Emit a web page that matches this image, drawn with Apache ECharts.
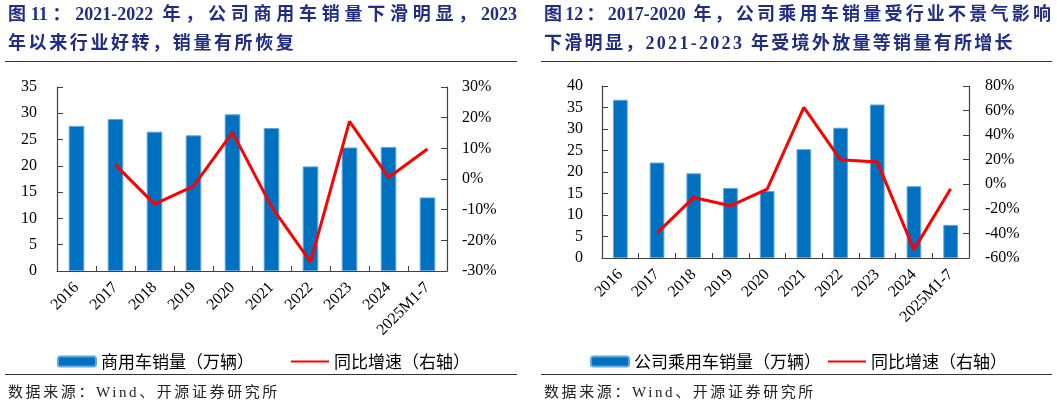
<!DOCTYPE html>
<html>
<head>
<meta charset="utf-8">
<script src="https://cdn.jsdelivr.net/npm/echarts@6/dist/echarts.min.js"></script>
<style>
    body { margin: 0; background: #fff; }
    #page { position: relative; width: 1057px; height: 405px; overflow: hidden; }
    #chart { position: absolute; left: 0; top: 0; width: 1057px; height: 405px; }
    .title {
        position: absolute; color: #1F2D84; font-weight: bold; font-size: 18px;
        font-family: "Liberation Serif", "Noto Sans CJK SC", serif;
        line-height: 22px; white-space: nowrap;
    }
    .justify { text-align: justify; text-align-last: justify; white-space: normal; }
    .rule { position: absolute; height: 0; border-top: 1.5px solid #333; }
    .source {
        position: absolute; color: #222; font-size: 15px; letter-spacing: 2.6px;
        font-family: "Liberation Serif", "Noto Sans CJK SC", serif;
        line-height: 20px; white-space: nowrap;
    }
</style>
</head>
<body>
<div id="page">
    <div id="chart"></div>

    <div class="title justify" style="left:8px;top:3px;width:509px;">图11：2021-2022 年，公司商用车销量下滑明显，2023</div>
    <div class="title" style="left:8px;top:32px;letter-spacing:2.6px;">年以来行业好转，销量有所恢复</div>
    <div class="rule" style="left:5px;top:61px;width:512px;"></div>

    <div class="title justify" style="left:544px;top:3px;width:507px;">图12：2017-2020 年，公司乘用车销量受行业不景气影响</div>
    <div class="title" style="left:544px;top:32px;letter-spacing:2.3px;">下滑明显，2021-2023 年受境外放量等销量有所增长</div>
    <div class="rule" style="left:541px;top:61px;width:511px;"></div>

    <div class="rule" style="left:5px;top:374px;width:512px;"></div>
    <div class="source" style="left:8px;top:382px;">数据来源：Wind、开源证券研究所</div>
    <div class="rule" style="left:541px;top:374px;width:511px;"></div>
    <div class="source" style="left:544px;top:382px;">数据来源：Wind、开源证券研究所</div>
</div>
<script>
// 横轴年份
const years = ['2016', '2017', '2018', '2019', '2020', '2021', '2022', '2023', '2024', '2025M1-7'];

// 图11：商用车销量（万辆）与同比增速（%）
const commercialSales = [27.6, 28.9, 26.5, 25.8, 29.8, 27.2, 19.9, 23.5, 23.6, 14.0];
const commercialYoy = [null, 4.6, -8.2, -2.3, 15.2, -9.0, -27.0, 18.8, 0.5, 9.8];

// 图12：公司乘用车销量（万辆）与同比增速（%）
const passengerSales = [36.8, 22.2, 19.7, 16.3, 15.6, 25.3, 30.3, 35.7, 16.7, 7.7];
const passengerYoy = [null, -39.7, -10.7, -17.5, -4.0, 62.6, 19.9, 18.2, -53.2, -3.7];

const barName1 = '商用车销量（万辆）';
const barName2 = '公司乘用车销量（万辆）';
const lineName = '同比增速（右轴）';

const axisColor = '#404040';
const numFont = 'Liberation Serif';

function valueAxis(gridIndex, min, max, interval, position, suffix, margin) {
    return {
        type: 'value',
        gridIndex: gridIndex,
        position: position,
        min: min,
        max: max,
        interval: interval,
        splitLine: { show: false },
        axisLine: { show: true, lineStyle: { color: axisColor, width: 1.2 } },
        axisTick: { show: true, inside: true, length: 6, lineStyle: { color: axisColor } },
        axisLabel: {
            color: '#000',
            fontSize: 16,
            fontFamily: numFont,
            margin: margin,
            formatter: suffix ? '{value}' + suffix : '{value}'
        }
    };
}

function categoryAxis(gridIndex) {
    return {
        type: 'category',
        gridIndex: gridIndex,
        data: years,
        axisLine: { lineStyle: { color: axisColor, width: 1.2 } },
        axisTick: { show: true, inside: true, length: 5, lineStyle: { color: axisColor } },
        axisLabel: {
            interval: 0,
            rotate: 45,
            color: '#000',
            fontSize: 16,
            fontFamily: numFont,
            margin: 14
        }
    };
}

function barSeries(name, axisIndex, data) {
    return {
        name: name,
        type: 'bar',
        xAxisIndex: axisIndex,
        yAxisIndex: axisIndex * 2,
        data: data,
        barWidth: '40%',
        itemStyle: { color: '#0070C0', borderColor: '#5FA6E0', borderWidth: 1 }
    };
}

function lineSeries(axisIndex, data) {
    return {
        name: lineName,
        type: 'line',
        xAxisIndex: axisIndex,
        yAxisIndex: axisIndex * 2 + 1,
        data: data,
        symbol: 'none',
        connectNulls: false,
        itemStyle: { color: '#FF0000' },
        lineStyle: { color: '#FF0000', width: 3 }
    };
}

// 图例：折线只画线，不画圆点
function legendAt(left, barName, gap) {
    return {
        left: left,
        top: 348,
        itemWidth: 38,
        itemHeight: 10,
        itemGap: gap,
        data: [
            barName,
            { name: lineName, itemStyle: { opacity: 0 } }
        ],
        textStyle: { color: '#000', fontSize: 17, fontFamily: 'Noto Sans CJK SC' }
    };
}

var myChart = echarts.init(document.getElementById('chart'), null, { renderer: 'canvas' });

var option = {
    animation: false,
    grid: [
        { left: 57, top: 87, width: 390, height: 184 },
        { left: 602, top: 86, width: 367, height: 172 }
    ],
    legend: [
        legendAt(52, barName1, 36),
        legendAt(585, barName2, 6)
    ],
    xAxis: [categoryAxis(0), categoryAxis(1)],
    yAxis: [
        valueAxis(0, 0, 35, 5, 'left', '', 20),
        valueAxis(0, -30, 30, 10, 'right', '%', 15),
        valueAxis(1, 0, 40, 5, 'left', '', 19),
        valueAxis(1, -60, 80, 20, 'right', '%', 16)
    ],
    series: [
        barSeries(barName1, 0, commercialSales),
        lineSeries(0, commercialYoy),
        barSeries(barName2, 1, passengerSales),
        lineSeries(1, passengerYoy)
    ]
};

myChart.setOption(option);
window.addEventListener('resize', myChart.resize);
</script>
</body>
</html>
